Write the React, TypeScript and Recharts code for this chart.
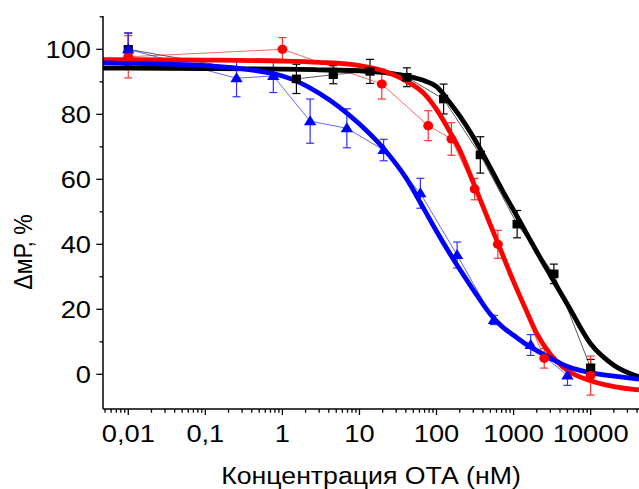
import { ComposedChart, Line, XAxis, YAxis, ErrorBar } from "recharts";

const FONT = '"Liberation Sans", Arial, sans-serif';
// the source picture is a little wider than tall, so glyphs are stretched sideways
const STRETCH = 1.16;

// axis ranges (concentration in nM, ΔmP in %)
const X_MIN = 0.0047;
const X_MAX = 42400;
const Y_MIN = -10.68;
const Y_MAX = 110.25;

const xMajor = [0.01, 0.1, 1, 10, 100, 1000, 10000];
const xLabels = ["0,01", "0,1", "1", "10", "100", "1000", "10000"];
const yTicks = [0, 10, 20, 30, 40, 50, 60, 70, 80, 90, 100, 110];
const yLabels = [0, 20, 40, 60, 80, 100];

// measured points
const blackX = [0.01, 1.52, 4.57, 13.7, 41.2, 123.5, 370, 1111, 3333, 10000];
const blackY = [100, 90.9, 92.2, 93.2, 91.4, 84.7, 67.5, 46.2, 30.9, 2.0];
const blackErr = [5, 4.5, 2.8, 3.7, 2.9, 4.6, 5.6, 4.2, 3, 2.6];

const redX = [0.01, 1, 19.5, 78, 156, 312.5, 625, 2500, 10000];
const redY = [97.7, 100, 89.3, 76.5, 72.4, 57, 40, 4.9, -0.4];
const redErr = [6.5, 3.6, 4.6, 4.6, 5, 3.3, 4.3, 3, 6];

const blueX = [0.01, 0.254, 0.762, 2.29, 6.86, 20.6, 61.7, 185, 556, 1667, 5000];
const blueY = [100, 91.1, 91.8, 77.9, 75.7, 69, 55.7, 36.7, 16.7, 9, -0.4];
const blueErr = [5, 5.7, 5.1, 6.8, 6, 3.3, 4.6, 4, 1.4, 3.2, 3];

// fitted curves
const fitX = [0.0047, 0.01, 0.1, 1, 3, 10, 20, 40, 70, 100, 150, 200, 300, 500, 700, 1000, 1500, 2000, 3000, 5000, 10000, 20000, 42400];
const blackFit = [94.2, 94.2, 94.1, 93.9, 93.7, 93.4, 92.9, 91.8, 90.3, 88.5, 83.5, 79.5, 73, 63.5, 57, 50.5, 43, 37.7, 30.5, 21.5, 9.4, 2.8, -0.8];
const redFit = [96.8, 96.8, 96.7, 96.4, 96.0, 95.0, 93.4, 90.3, 86.2, 81.5, 74.5, 69, 59, 46, 37.5, 28.5, 19, 12.5, 6.2, 1.2, -2.0, -3.8, -4.8];
const blueFit = [95.8, 95.7, 95.0, 91.8, 86.5, 77, 69.8, 60.5, 50.5, 44, 37, 32.3, 26, 18.5, 14.8, 12, 9, 7.3, 5, 2.4, 0.5, -0.6, -1.5];

const rows = (xs: number[], ys: number[], es?: number[]) =>
  xs.map((x, i) => ({ x, y: ys[i], err: es ? es[i] : 0 }));

const blackData = rows(blackX, blackY, blackErr);
const redData = rows(redX, redY, redErr);
const blueData = rows(blueX, blueY, blueErr);
const blackCurve = rows(fitX, blackFit);
const redCurve = rows(fitX, redFit);
const blueCurve = rows(fitX, blueFit);

const xTicks: number[] = [];
for (let d = 0.001; d < X_MAX; d *= 10) {
  for (let k = 1; k < 10; k++) {
    const v = +(d * k).toPrecision(3);
    if (v >= X_MIN && v <= X_MAX) xTicks.push(v);
  }
}

const XTick = (props: any) => {
  const { x, y, payload } = props;
  const idx = xMajor.findIndex((m) => Math.abs(m - payload.value) / m < 1e-6);
  const major = idx >= 0;
  return (
    <g>
      <line x1={x} x2={x} y1={y} y2={y + (major ? 6 : 3.7)} stroke="#000" strokeWidth={1.3} />
      {major && (
        <text
          transform={`translate(${x},${y + 32.7}) scale(${STRETCH},1)`}
          textAnchor="middle"
          fontSize={23.5}
          fontFamily={FONT}
          fill="#000"
        >
          {xLabels[idx]}
        </text>
      )}
    </g>
  );
};

const YTick = (props: any) => {
  const { x, y, payload } = props;
  const major = yLabels.includes(payload.value);
  return (
    <g>
      <line x1={x} x2={x - (major ? 6.7 : 3.4)} y1={y} y2={y} stroke="#000" strokeWidth={1.3} />
      {major && (
        <text
          transform={`translate(${x - 12},${y}) scale(${STRETCH},1)`}
          dy="0.36em"
          textAnchor="end"
          fontSize={23.5}
          fontFamily={FONT}
          fill="#000"
        >
          {payload.value}
        </text>
      )}
    </g>
  );
};

const Square = (props: any) => {
  const { cx, cy } = props;
  if (cx == null || cy == null) return null;
  return <rect x={cx - 4.6} y={cy - 4.3} width={9.2} height={8.6} fill="#000" />;
};

const Dot = (props: any) => {
  const { cx, cy } = props;
  if (cx == null || cy == null) return null;
  return <ellipse cx={cx} cy={cy} rx={5} ry={4.6} fill="#ff0000" />;
};

const Tri = (props: any) => {
  const { cx, cy } = props;
  if (cx == null || cy == null) return null;
  return <polygon points={`${cx},${cy - 6} ${cx - 6.2},${cy + 4} ${cx + 6.2},${cy + 4}`} fill="#0000ff" />;
};

export default function App() {
  return (
    <div style={{ position: "absolute", left: 0, top: 0, width: 639, height: 489, background: "#fff" }}>
      <ComposedChart width={639} height={489} margin={{ top: 16, right: 0, bottom: 0, left: 0 }}>
        <XAxis
          type="number"
          dataKey="x"
          scale="log"
          domain={[X_MIN, X_MAX]}
          allowDataOverflow
          ticks={xTicks}
          interval={0}
          tickSize={0}
          tickMargin={0}
          tickLine={false}
          tick={(p: any) => <XTick {...p} />}
          axisLine={{ stroke: "#000", strokeWidth: 1.5 }}
          height={80}
          label={() => (
            <text
              transform={`translate(371,484) scale(${STRETCH},1)`}
              textAnchor="middle"
              fontSize={23}
              fontFamily={FONT}
              fill="#000"
            >
              Концентрация ОТА (нМ)
            </text>
          )}
        />
        <YAxis
          type="number"
          domain={[Y_MIN, Y_MAX]}
          allowDataOverflow
          ticks={yTicks}
          interval={0}
          tickSize={0}
          tickMargin={0}
          tickLine={false}
          tick={(p: any) => <YTick {...p} />}
          axisLine={{ stroke: "#000", strokeWidth: 1.5 }}
          width={103}
          label={() => (
            <text
              transform={`translate(32,252) scale(${STRETCH},1) rotate(-90)`}
              textAnchor="middle"
              fontSize={23}
              fontFamily={FONT}
              fill="#000"
            >
              ΔмР, %
            </text>
          )}
        />

        <Line data={blackData} dataKey="y" type="linear" stroke="#000" strokeOpacity={0.65} strokeWidth={1} dot={<Square />} activeDot={false} isAnimationActive={false}>
          <ErrorBar dataKey="err" direction="y" width={4} stroke="#000" strokeWidth={1.2} />
        </Line>
        <Line data={redData} dataKey="y" type="linear" stroke="#ff0000" strokeOpacity={0.6} strokeWidth={1} dot={<Dot />} activeDot={false} isAnimationActive={false}>
          <ErrorBar dataKey="err" direction="y" width={4} stroke="#ff3030" strokeWidth={1.2} />
        </Line>
        <Line data={blueData} dataKey="y" type="linear" stroke="#0000ff" strokeOpacity={0.6} strokeWidth={1} dot={<Tri />} activeDot={false} isAnimationActive={false}>
          <ErrorBar dataKey="err" direction="y" width={4} stroke="#3030ff" strokeWidth={1.2} />
        </Line>

        <Line data={blackCurve} dataKey="y" type="monotone" stroke="#000" strokeWidth={4.8} dot={false} activeDot={false} isAnimationActive={false} />
        <Line data={redCurve} dataKey="y" type="monotone" stroke="#ff0000" strokeWidth={4.8} dot={false} activeDot={false} isAnimationActive={false} />
        <Line data={blueCurve} dataKey="y" type="monotone" stroke="#0000ff" strokeWidth={4.8} dot={false} activeDot={false} isAnimationActive={false} />
      </ComposedChart>
    </div>
  );
}
